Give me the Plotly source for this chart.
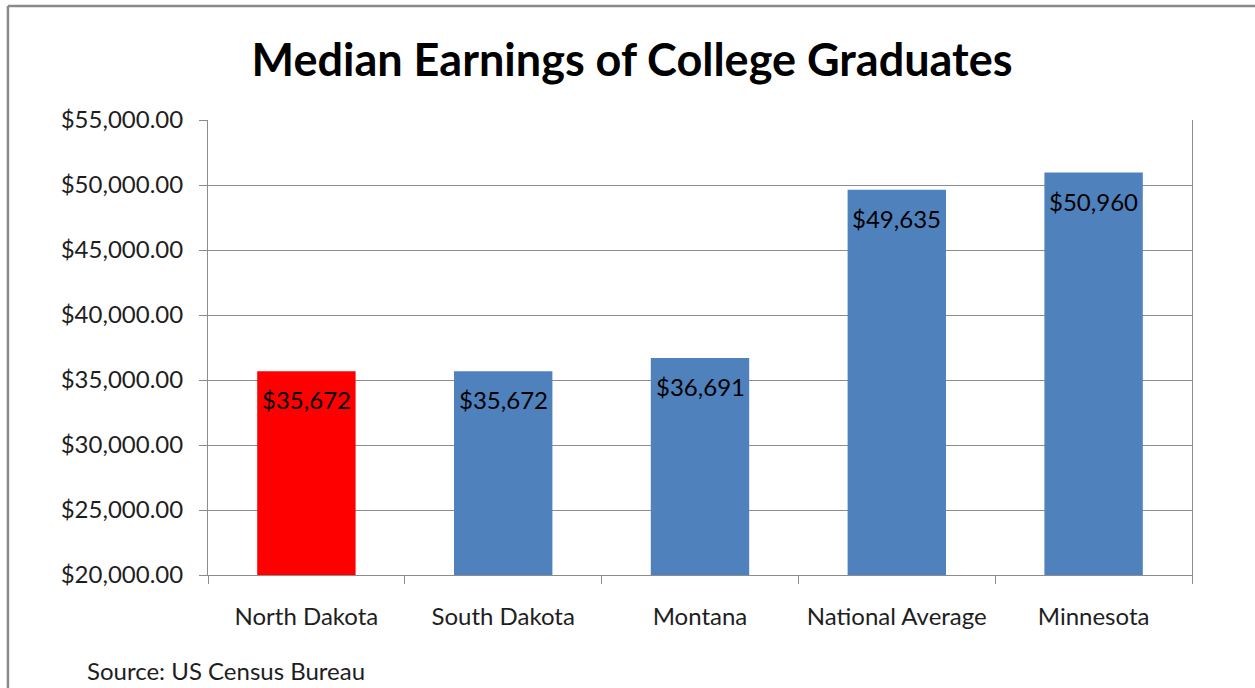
import plotly.graph_objects as go

categories = ["North Dakota", "South Dakota", "Montana", "National Average", "Minnesota"]
earnings = [35672, 35672, 36691, 49635, 50960]
bar_colors = ["#FF0000", "#4F81BD", "#4F81BD", "#4F81BD", "#4F81BD"]
y_ticks = [20000, 25000, 30000, 35000, 40000, 45000, 50000, 55000]
y_tick_labels = ["$%s.00" % format(v, ",") for v in y_ticks]
value_labels = ["$%s" % format(v, ",") for v in earnings]

FONT = "Lato, Open Sans, sans-serif"
GRID = "#8c8c8c"
TXT = "#1e1e1e"

fig = go.Figure()
fig.add_trace(go.Bar(
    x=categories, y=earnings, marker=dict(color=bar_colors, line=dict(width=0)),
    showlegend=False, hoverinfo="x+y",
))

for c, v, t in zip(categories, earnings, value_labels):
    fig.add_annotation(x=c, y=v, text=t, showarrow=False, yanchor="top", yshift=-12,
                       font=dict(family=FONT, size=24, color="#000000"))

fig.add_annotation(xref="paper", yref="paper", x=-0.125, y=-0.209, xanchor="left", yanchor="middle",
                   text="Source: US Census Bureau", showarrow=False,
                   font=dict(family=FONT, size=24, color=TXT))

# outer chart frame (left and top edges visible)
fig.add_shape(type="line", xref="paper", yref="paper", x0=-0.2033, x1=-0.2033, y0=1.2505, y1=-0.3,
              line=dict(color="#8a8a8a", width=2.5))
fig.add_shape(type="line", xref="paper", yref="paper", x0=-0.2033, x1=1.08, y0=1.2505, y1=1.2505,
              line=dict(color="#8a8a8a", width=2.5))

fig.update_layout(
    width=1255, height=688,
    margin=dict(l=208, r=63, t=120, b=113),
    paper_bgcolor="white", plot_bgcolor="white",
    bargap=0.5,
    title=dict(text="<b>Median Earnings of College Graduates</b>", x=0.5036, xanchor="center",
               y=0.913, yanchor="middle", font=dict(family=FONT, size=45, color="#000000")),
    xaxis=dict(type="category", showgrid=False, showline=True, linecolor=GRID, linewidth=1,
               ticks="outside", tickson="boundaries", ticklen=8, tickcolor=GRID,
               ticklabelstandoff=20,
               tickfont=dict(family=FONT, size=24, color=TXT), mirror=False),
    yaxis=dict(range=[20000, 55000], tickvals=y_ticks, ticktext=y_tick_labels,
               showgrid=True, gridcolor=GRID, gridwidth=1, showline=True, linecolor=GRID,
               mirror=True, ticks="outside", ticklen=8, tickcolor=GRID, zeroline=False,
               ticklabelstandoff=11,
               tickfont=dict(family=FONT, size=24, color=TXT)),
)

fig.write_html("out.html", config={"displayModeBar": False},
               post_script="document.body.style.margin='0px';")
